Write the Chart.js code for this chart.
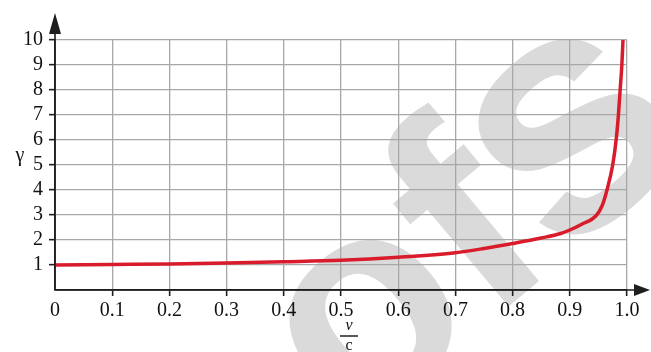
<!DOCTYPE html>
<html>
<head>
<meta charset="utf-8">
<script src="https://cdn.jsdelivr.net/npm/chart.js@4/dist/chart.umd.min.js"></script>
<style>
  html, body { margin: 0; padding: 0; background: #fff; }
  canvas { display: block; }
</style>
</head>
<body>
<canvas id="c" width="651" height="352"></canvas>
<script>
// Speed as a fraction of c, and the Lorentz factor γ at each speed
const speedRatio = [0, 0.1, 0.2, 0.3, 0.4, 0.5, 0.6, 0.7, 0.75, 0.8, 0.85, 0.884, 0.9, 0.92, 0.947, 0.957, 0.965, 0.975, 0.981, 0.985, 0.988, 0.991, 0.993];
const gammaValues = [1.0, 1.02, 1.04, 1.08, 1.13, 1.19, 1.31, 1.49, 1.66, 1.86, 2.08, 2.26, 2.4, 2.62, 3.0, 3.4, 4.0, 5.0, 6.0, 7.0, 8.0, 9.0, 10.0];

// Axis tick labels
const xTickLabels = ['0', '0.1', '0.2', '0.3', '0.4', '0.5', '0.6', '0.7', '0.8', '0.9', '1.0'];
const yTickLabels = ['', '1', '2', '3', '4', '5', '6', '7', '8', '9', '10'];

const points = speedRatio.map((v, i) => ({ x: v, y: gammaValues[i] }));

const SERIF = '"Liberation Serif", "DejaVu Serif", serif';
const AXIS_COLOR = '#1e1e1e';
const GRID_COLOR = '#a8a8a8';

// Background, faint "ofs" stamp, arrows and axis titles
const decorations = {
  id: 'decorations',
  beforeDraw(chart) {
    const ctx = chart.ctx;
    ctx.save();
    ctx.fillStyle = '#ffffff';
    ctx.fillRect(0, 0, chart.width, chart.height);
    ctx.translate(352, 438);
    ctx.rotate(-40 * Math.PI / 180);
    ctx.fillStyle = '#dadada';
    ctx.textAlign = 'left';
    ctx.textBaseline = 'alphabetic';
    ctx.font = 'bold 290px "Liberation Sans", Arial, sans-serif';
    ctx.fillText('of', 0, 0);
    const w = ctx.measureText('of').width;
    ctx.font = 'bold 340px "Liberation Sans", Arial, sans-serif';
    ctx.fillText('s', w - 4, 0);
    ctx.restore();
  },
  afterDraw(chart) {
    const ctx = chart.ctx;
    const a = chart.chartArea;
    ctx.save();
    ctx.strokeStyle = AXIS_COLOR;
    ctx.fillStyle = AXIS_COLOR;
    ctx.lineWidth = 1.6;
    // vertical axis with arrow
    ctx.beginPath();
    ctx.moveTo(a.left, a.bottom);
    ctx.lineTo(a.left, a.top - 8);
    ctx.stroke();
    ctx.beginPath();
    ctx.moveTo(a.left, a.top - 27);
    ctx.lineTo(a.left - 6, a.top - 6);
    ctx.lineTo(a.left + 6, a.top - 6);
    ctx.closePath();
    ctx.fill();
    // horizontal axis with arrow
    ctx.beginPath();
    ctx.moveTo(a.left, a.bottom);
    ctx.lineTo(a.right + 10, a.bottom);
    ctx.stroke();
    ctx.beginPath();
    ctx.moveTo(a.right + 23, a.bottom);
    ctx.lineTo(a.right + 7, a.bottom - 6);
    ctx.lineTo(a.right + 7, a.bottom + 6);
    ctx.closePath();
    ctx.fill();

    // axis titles
    ctx.fillStyle = '#111';
    ctx.textAlign = 'center';
    ctx.textBaseline = 'middle';
    ctx.font = '20px ' + SERIF;
    ctx.fillText('γ', 20, 156);
    ctx.font = 'italic 16px ' + SERIF;
    ctx.fillText('v', 349, 326);
    ctx.font = '16px ' + SERIF;
    ctx.fillText('c', 349, 346);
    ctx.lineWidth = 1.4;
    ctx.strokeStyle = '#111';
    ctx.beginPath();
    ctx.moveTo(340, 336);
    ctx.lineTo(358, 336);
    ctx.stroke();
    ctx.restore();
  }
};

new Chart(document.getElementById('c'), {
  type: 'line',
  data: {
    datasets: [{
      data: points,
      borderColor: '#d91c2b',
      borderWidth: 3.5,
      pointRadius: 0,
      cubicInterpolationMode: 'monotone',
      fill: false
    }]
  },
  options: {
    responsive: false,
    devicePixelRatio: 1,
    animation: false,
    events: [],
    layout: { padding: { top: 40, right: 24, left: 0, bottom: 0 } },
    plugins: { legend: { display: false }, tooltip: { enabled: false } },
    scales: {
      x: {
        type: 'linear',
        min: 0,
        max: 1,
        afterFit(scale) { scale.height = 62; },
        afterBuildTicks(scale) {
          scale.ticks = xTickLabels.map((_, i) => ({ value: i / 10 }));
        },
        border: { display: true, color: AXIS_COLOR, width: 1.6 },
        grid: {
          color: GRID_COLOR,
          lineWidth: 1.3,
          drawTicks: true,
          tickLength: 6,
          tickWidth: 1.6,
          tickColor: (c) => (c.index === 0 ? 'rgba(0,0,0,0)' : AXIS_COLOR)
        },
        ticks: {
          autoSkip: false,
          maxRotation: 0,
          padding: 3,
          color: '#111',
          font: { family: SERIF, size: 20 },
          callback: (v, i) => xTickLabels[i]
        }
      },
      y: {
        type: 'linear',
        min: 0,
        max: 10,
        afterFit(scale) { scale.width = 55; },
        afterBuildTicks(scale) {
          scale.ticks = yTickLabels.map((_, i) => ({ value: i }));
        },
        border: { display: true, color: AXIS_COLOR, width: 1.6 },
        grid: {
          color: GRID_COLOR,
          lineWidth: 1.3,
          drawTicks: true,
          tickLength: 6,
          tickWidth: 1.6,
          tickColor: (c) => (c.index === 0 ? 'rgba(0,0,0,0)' : AXIS_COLOR)
        },
        ticks: {
          autoSkip: false,
          padding: 6,
          color: '#111',
          font: { family: SERIF, size: 20 },
          callback: (v, i) => yTickLabels[i]
        }
      }
    }
  },
  plugins: [decorations]
});
</script>
</body>
</html>
